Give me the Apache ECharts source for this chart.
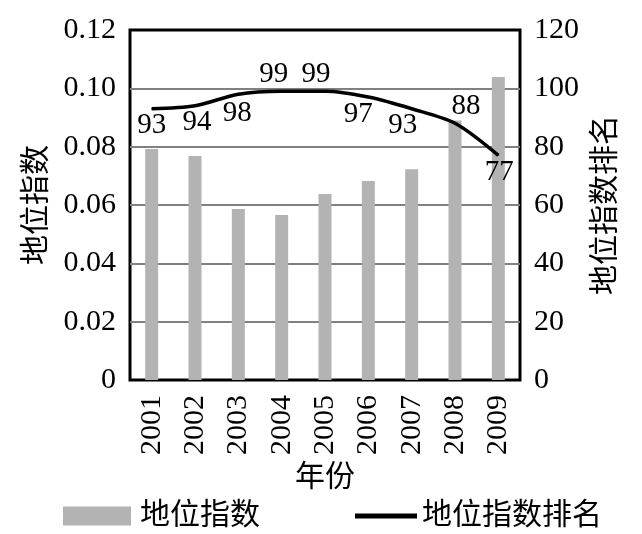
<!DOCTYPE html>
<html>
<head>
<meta charset="utf-8">
<script src="https://cdn.jsdelivr.net/npm/echarts@6/dist/echarts.min.js"></script>
<style>
  html, body { margin: 0; padding: 0; background: #fff; }
  #chart { width: 642px; height: 534px; }
</style>
</head>
<body>
<div id="chart"></div>
<script>
var years = ['2001', '2002', '2003', '2004', '2005', '2006', '2007', '2008', '2009'];
var indexValues = [0.0792, 0.0768, 0.0586, 0.0566, 0.0638, 0.0682, 0.0723, 0.089, 0.1039];
var rankValues = [93, 94, 98, 99, 99, 97, 93, 88, 77];
var leftTicks = { min: 0, max: 0.12, interval: 0.02 };
var rightTicks = { min: 0, max: 120, interval: 20 };

// where each rank label sits relative to its point
var labelPlace = [
  ['bottom', [0, 0]], ['bottom', [2, 0]], ['bottom', [-1, 2]],
  ['top', [-8, 0]], ['top', [-9, 0]], ['bottom', [-10, 0]],
  ['bottom', [-9, 0]], ['top', [11, 0]], ['bottom', [1, 0]]
];

var font = '"Liberation Serif", "Noto Sans CJK SC", serif';
var numSize = 30;
var cjkSize = 30;
var chart = echarts.init(document.getElementById('chart'));

var option = {
  backgroundColor: '#fff',
  animation: false,
  textStyle: { fontFamily: font, color: '#000' },
  grid: {
    left: 130, right: 122, top: 30, bottom: 154,
    show: true, borderColor: '#000', borderWidth: 3, backgroundColor: '#fff'
  },
  legend: [{
    left: 58, top: 496,
    itemWidth: 68, itemHeight: 19,
    textStyle: { fontFamily: font, fontSize: cjkSize, color: '#000', padding: [0, 0, 0, 4] },
    data: [{ name: '地位指数', icon: 'rect' }]
  }, {
    left: 350, top: 496,
    itemWidth: 62, itemHeight: 5,
    textStyle: { fontFamily: font, fontSize: cjkSize, color: '#000', padding: [0, 0, 0, 0] },
    data: [{ name: '地位指数排名', icon: 'rect' }]
  }],
  xAxis: {
    type: 'category',
    data: years,
    name: '年份',
    nameLocation: 'middle',
    nameGap: 80,
    nameTextStyle: { fontFamily: font, fontSize: cjkSize, color: '#000' },
    axisLine: { show: false },
    axisTick: { show: false },
    axisLabel: { rotate: 90, margin: 15, fontFamily: font, fontSize: numSize, color: '#000' }
  },
  yAxis: [{
    type: 'value',
    min: leftTicks.min, max: leftTicks.max, interval: leftTicks.interval,
    name: '地位指数',
    nameLocation: 'middle',
    nameRotate: 90,
    nameGap: 75,
    nameTextStyle: { fontFamily: font, fontSize: cjkSize, color: '#000' },
    axisLine: { show: false },
    axisTick: { show: false },
    axisLabel: {
      margin: 14, fontFamily: font, fontSize: numSize, color: '#000',
      formatter: function (v) { return v === 0 ? '0' : v.toFixed(2); }
    },
    splitLine: { show: true, showMinLine: false, showMaxLine: false, lineStyle: { color: '#808080', width: 2 } }
  }, {
    type: 'value',
    min: rightTicks.min, max: rightTicks.max, interval: rightTicks.interval,
    name: '地位指数排名',
    nameLocation: 'middle',
    nameRotate: 90,
    nameGap: 71,
    nameTextStyle: { fontFamily: font, fontSize: cjkSize, color: '#000' },
    axisLine: { show: false },
    axisTick: { show: false },
    axisLabel: { margin: 14, fontFamily: font, fontSize: numSize, color: '#000' },
    splitLine: { show: false }
  }],
  series: [{
    name: '地位指数',
    type: 'bar',
    yAxisIndex: 0,
    barWidth: 13,
    itemStyle: { color: '#b3b3b3' },
    data: indexValues
  }, {
    name: '地位指数排名',
    type: 'line',
    yAxisIndex: 1,
    smooth: 0.3,
    symbol: 'circle',
    symbolSize: 1,
    lineStyle: { color: '#000', width: 3.5 },
    itemStyle: { color: '#000' },
    data: rankValues.map(function (v, i) {
      return {
        value: v,
        label: { show: true, position: labelPlace[i][0], offset: labelPlace[i][1] }
      };
    }),
    label: { show: true, fontFamily: font, fontSize: 29, color: '#000', distance: 2 }
  }]
};

chart.setOption(option);
</script>
</body>
</html>
